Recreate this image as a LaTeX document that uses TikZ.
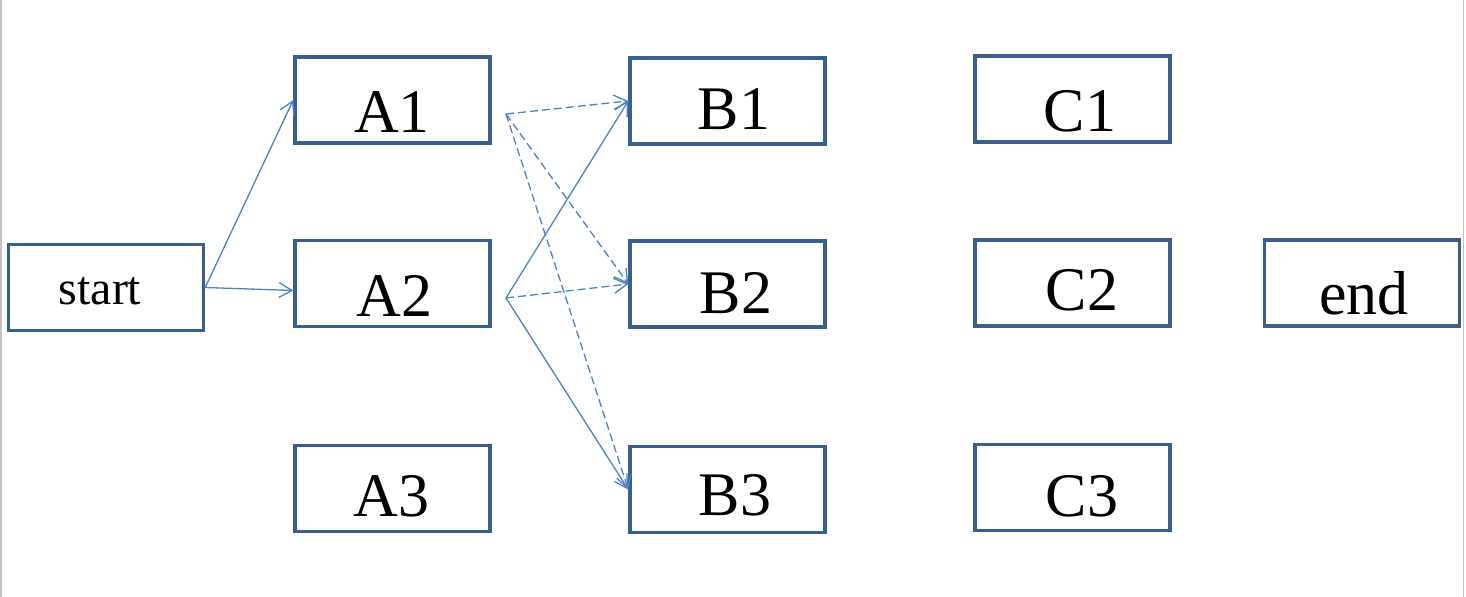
\documentclass[tikz,border=0pt]{standalone}
\usepackage{fontspec}
\setmainfont{Liberation Serif}
\usetikzlibrary{arrows.meta,calc}
\definecolor{boxblue}{RGB}{59,95,141}
\definecolor{linkblue}{RGB}{79,129,189}
\definecolor{edgegrey}{RGB}{195,195,195}
\begin{document}
\begin{tikzpicture}[x=0.5pt,y=-0.5pt,
  stage/.style={draw=boxblue, line width=1.75pt, rectangle,
    minimum width=97.5pt, minimum height=43pt, inner sep=0pt},
  caption/.style={anchor=base, inner sep=0pt, font=\fontsize{31}{31}\selectfont},
  link/.style={draw=linkblue, line width=0.65pt,
    -{Straight Barb[length=6.5pt,width=7.5pt]}},
  alt/.style={link, dash pattern=on 4pt off 2pt}]
\useasboundingbox (0,0) rectangle (1466,597);

% page frame
\draw[edgegrey, line width=0.7pt] (1,0) -- (1,597);
\draw[edgegrey, line width=0.7pt] (1463.5,0) -- (1463.5,597);

% boxes
\node[stage] (start) at (106,287.5) {};
\node[stage] (A1) at (392.5,100) {};
\node[stage] (A2) at (392.5,283.5) {};
\node[stage] (A3) at (392.5,488.5) {};
\node[stage] (B1) at (727.5,101) {};
\node[stage] (B2) at (727.5,284) {};
\node[stage] (B3) at (727.5,489.5) {};
\node[stage] (C1) at (1072.5,99) {};
\node[stage] (C2) at (1072.5,283) {};
\node[stage] (C3) at (1072.5,487.5) {};
\node[stage] (end) at (1362,283) {};

% labels
\node[caption, font=\fontsize{24}{24}\selectfont] (start-t) at (100,305) {start};
\node[caption] (A1-t) at (392,133) {A1};
\node[caption] (A2-t) at (394.5,317) {A2};
\node[caption] (A3-t) at (391.5,517) {A3};
\node[caption] (B1-t) at (734,130) {B1};
\node[caption] (B2-t) at (736,314) {B2};
\node[caption] (B3-t) at (735,516) {B3};
\node[caption] (C1-t) at (1080,132) {C1};
\node[caption] (C2-t) at (1082,311) {C2};
\node[caption] (C3-t) at (1082,517) {C3};
\node[caption] (end-t) at (1364,315) {end};

% connectors
\coordinate (fa) at (506,114);
\coordinate (fb) at (506,298);
\draw[link] (start.east) -- (A1.west);
\draw[link] (start.east) -- ($(A2.west)+(0,7)$);
\draw[alt] (fa) -- (B1.west);
\draw[alt] (fa) -- (B2.west);
\draw[alt] (fa) -- (B3.west);
\draw[link] (fb) -- (B1.west);
\draw[alt] (fb) -- (B2.west);
\draw[link] (fb) -- (B3.west);
\end{tikzpicture}
\end{document}
